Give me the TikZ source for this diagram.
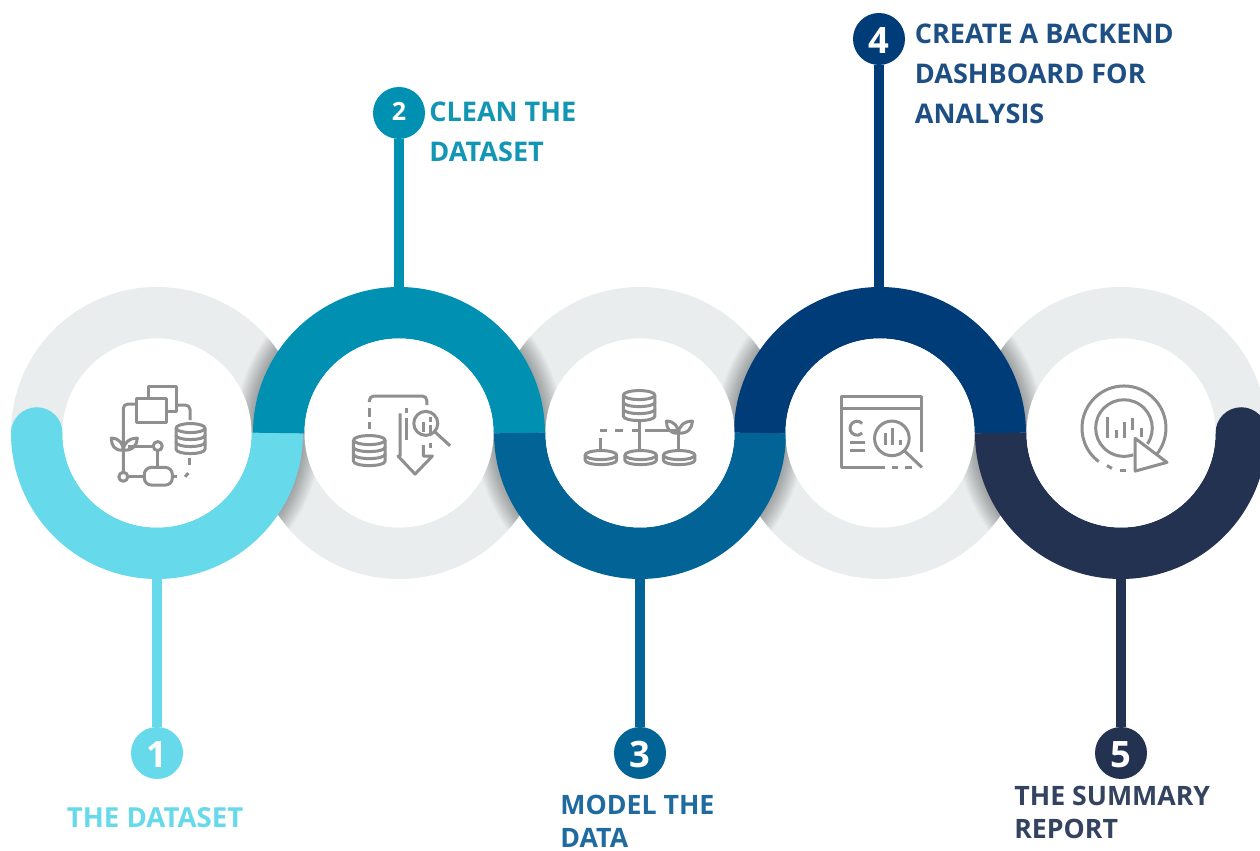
\documentclass[tikz,border=0pt]{standalone}
\usepackage{fontspec}
\setmainfont{Open Sans}
\definecolor{ringgray}{HTML}{EAEDEE}
\definecolor{icongray}{HTML}{8F8F8F}
\definecolor{cyanone}{HTML}{66D9EA}
\definecolor{tealtwo}{HTML}{0090B2}
\definecolor{bluethree}{HTML}{026496}
\definecolor{navyfour}{HTML}{003C77}
\definecolor{darkfive}{HTML}{223250}
\definecolor{texttwo}{HTML}{1296B3}
\definecolor{textthree}{HTML}{1F6A9E}
\definecolor{textfour}{HTML}{1D4F85}
\definecolor{textfive}{HTML}{344360}
\tikzset{
	hub/.style={circle, fill=white, minimum size=3.78cm, inner sep=0},
	badge/.style={circle, minimum size=1.04cm, inner sep=0, text=white, text depth=1.3pt, font=\fontsize{14.3}{18}\selectfont\bfseries},
	bigbadge/.style={badge, text depth=0pt, text height=16.5pt, font=\fontsize{20.7}{24}\selectfont\bfseries},
	tagtext/.style={font=\fontsize{15.4}{22.7}\selectfont\bfseries, align=left, anchor=west, inner sep=0},
	tagwide/.style={tagtext, font=\fontsize{15.7}{22.7}\selectfont\bfseries},
	tagtight/.style={tagtext, font=\fontsize{15.2}{18.8}\selectfont\bfseries},
	band/.style={line width=1.03cm},
	stem/.style={line width=0.2cm},
	icon/.style={draw=icongray, line width=0.06cm, line join=round},
	pixels/.style={shift={(0,17)}, x=0.02cm, y=-0.02cm}
}
% #1 x, #2 y of top ellipse, #3 rx, #4 ry, #5 layer height, #6 layers
\newcommand{\dbstack}[6]{
	\draw[icon] (#1,#2) ellipse ({#3} and {#4});
	\foreach \k in {1,...,#6} {
		\draw[icon] ({#1-#3},{#2+(\k-1)*#5}) -- ({#1-#3},{#2+\k*#5}) .. controls ({#1-#3},{#2+\k*#5+1.33*#4}) and ({#1+#3},{#2+\k*#5+1.33*#4}) .. ({#1+#3},{#2+\k*#5}) -- ({#1+#3},{#2+(\k-1)*#5});
	}
}
% #1 x, #2 y of the stem top
\newcommand{\sprout}[2]{
	\draw[icon] (#1,#2) .. controls ({#1-9},{#2+1}) and ({#1-12},{#2-5}) .. ({#1-12},{#2-12}) .. controls ({#1-4},{#2-12}) and ({#1},{#2-6}) .. (#1,#2);
	\draw[icon] (#1,#2) .. controls ({#1+9},{#2+1}) and ({#1+14},{#2-5}) .. ({#1+14},{#2-12}) .. controls ({#1+5},{#2-12}) and ({#1},{#2-6}) .. (#1,#2);
}
\begin{document}
\begin{tikzpicture}
	\useasboundingbox (0,0) rectangle (25.2,17);
	\clip (0,0) rectangle (25.2,17);
	\fill[white] (0,0) rectangle (25.2,17);
	\def\ringy{8.34}

	% gray halves
	\foreach \cx in {3.14,12.8,22.42}
		\draw[band, ringgray] (\cx+2.405,\ringy) arc (0:180:2.405);
	\foreach \cx in {7.98,17.6}
		\draw[band, ringgray] (\cx+2.405,\ringy) arc (0:-180:2.405);

	% shadows on the gray halves
	\foreach \gx/\cx/\endangle in {3.14/7.98/0,12.8/7.98/0,12.8/17.6/0,22.42/17.6/0,7.98/3.14/360,7.98/12.8/360,17.6/12.8/360,17.6/22.42/360} {
		\begin{scope}
			\clip (\gx-2.92,\ringy) arc (180:\endangle:2.92) -- cycle;
			\foreach \k in {1,...,12}
				\draw[black, opacity=0.026, line width=0.06*\k cm] (\cx,\ringy) circle (2.92);
		\end{scope}
	}

	% stems
	\node[bigbadge, fill=cyanone] (badge1) at (3.14,1.94) {1};
	\node[badge, fill=tealtwo] (badge2) at (7.98,14.74) {2};
	\node[bigbadge, fill=bluethree] (badge3) at (12.8,1.94) {3};
	\node[bigbadge, fill=navyfour] (badge4) at (17.58,16.22) {4};
	\node[bigbadge, fill=darkfive] (badge5) at (22.42,1.94) {5};
	\coordinate (foot1) at (3.14,5.94);
	\coordinate (foot2) at (7.98,10.74);
	\coordinate (foot3) at (12.8,5.94);
	\coordinate (foot4) at (17.58,10.74);
	\coordinate (foot5) at (22.42,5.94);
	\draw[stem, cyanone] (badge1) -- (foot1);
	\draw[stem, tealtwo] (badge2) -- (foot2);
	\draw[stem, bluethree] (badge3) -- (foot3);
	\draw[stem, navyfour] (badge4) -- (foot4);
	\draw[stem, darkfive] (badge5) -- (foot5);

	% colored halves
	\draw[band, cyanone] (3.14-2.405,\ringy) arc (180:360:2.405);
	\fill[cyanone] (3.14-2.405,\ringy) circle (0.515);
	\draw[band, tealtwo] (7.98-2.405,\ringy) arc (180:0:2.405);
	\draw[band, bluethree] (12.8-2.405,\ringy) arc (180:360:2.405);
	\draw[band, navyfour] (17.6-2.405,\ringy) arc (180:0:2.405);
	\draw[band, darkfive] (22.42-2.405,\ringy) arc (180:360:2.405);
	\fill[darkfive] (22.42+2.405,\ringy) circle (0.515);

	\node[hub] (hub1) at (3.14,\ringy) {};
	\node[hub] (hub2) at (7.98,\ringy) {};
	\node[hub] (hub3) at (12.8,\ringy) {};
	\node[hub] (hub4) at (17.6,\ringy) {};
	\node[hub] (hub5) at (22.42,\ringy) {};

	% labels
	\node[tagwide, text=cyanone] (tag1) at (1.33,0.64) {THE DATASET};
	\node[tagtext, text=texttwo] (tag2) at (8.58,14.37) {CLEAN THE\\DATASET};
	\node[tagtight, text=textthree, text depth=0pt] (tag3) at (11.2,0.58) {MODEL THE\\DATA};
	\node[tagtext, text=textfour] (tag4) at (18.29,15.52) {CREATE A BACKEND\\DASHBOARD FOR\\ANALYSIS};
	\node[tagtight, text=textfive] (tag5) at (20.28,0.75) {THE SUMMARY\\REPORT};

	\begin{scope}[pixels]
		% icon 1
		\draw[icon] (148.3,398) -- (148.3,386) -- (176.7,386) -- (176.7,411.7) -- (166.7,411.7);
		\draw[icon] (136.7,398.3) rectangle (166.7,422.3);
		\draw[icon, rounded corners=2.5pt] (136.7,404) -- (123.3,404) -- (123.3,472);
		\draw[icon, rounded corners=2.5pt] (176.7,405) -- (190,405) -- (190,420);
		\dbstack{190.5}{428}{14.5}{4.5}{7}{3}
		\sprout{123.3}{450}
		\draw[icon] (123.3,476.7) circle (4.5);
		\draw[icon] (157.7,446) circle (4.5);
		\draw[icon] (128,446) -- (153,446);
		\draw[icon] (157.7,450.5) -- (157.7,467.3);
		\draw[icon] (128,476.7) -- (144.3,476.7);
		\draw[icon, rounded corners=4pt] (144.3,467.3) rectangle (172.3,485);
		\draw[icon] (172.3,476.7) -- (177.3,476.7);
		\draw[icon] (188.3,473) -- (185,476.7);
		\draw[icon] (189.3,458.3) -- (189.3,465);

		% icon 2
		\dbstack{369.2}{440}{15.8}{4.5}{7}{3}
		\draw[icon, rounded corners=2.5pt] (369.3,402) -- (369.3,396) -- (426.7,396) -- (426.7,405);
		\draw[icon] (369.3,408.3) -- (369.3,416.7);
		\draw[icon] (369.3,421.7) -- (369.3,429.3);
		\draw[icon] (400,413.3) -- (400,456) -- (398,456) -- (415,474) -- (432.3,456) -- (423.3,456) -- (423.3,445);
		\draw[icon] (406.7,408.3) -- (406.7,413.3);
		\draw[icon] (406.7,418.3) -- (406.7,440);
		\draw[icon] (425.7,423.3) circle (12);
		\draw[icon] (434.5,431.5) -- (450,445.7);
		\draw[icon] (423.3,421.7) -- (423.3,431.7);
		\draw[icon] (430.7,417) -- (430.7,422);
		\draw[icon] (430.7,425) -- (430.7,433);
		\draw[icon] (430.7,443) -- (430.7,448);

		% icon 3
		\dbstack{639}{395}{15.8}{4.5}{7}{3}
		\draw[icon] (639.3,420) -- (639.3,450);
		\draw[icon] (645,430.7) -- (678,430.7);
		\draw[icon] (600,430.7) -- (606.7,430.7);
		\draw[icon] (615,430.7) -- (623.3,430.7);
		\draw[icon] (631.7,430.7) -- (638,430.7);
		\draw[icon] (600,438.3) -- (600,450);
		\draw[icon] (678.3,433) -- (678.3,450);
		\sprout{678.3}{433}
		\dbstack{600.8}{455}{15.8}{4.5}{5}{1}
		\dbstack{640.5}{455}{15.8}{4.5}{5}{1}
		\dbstack{679}{455}{15.8}{4.5}{5}{1}

		% icon 4
		\draw[icon] (921.7,451.7) -- (921.7,396.7) -- (841,396.7) -- (841,467.3) -- (885,467.3);
		\draw[icon] (891.7,467.3) -- (898.3,467.3);
		\draw[icon] (905,467.3) -- (912.3,467.3);
		\draw[icon] (841,408.3) -- (921.7,408.3);
		\draw[icon] (862,423.4) arc (-43:-317:7);
		\draw[icon] (850,442.3) -- (865,442.3);
		\draw[icon] (850,450.7) -- (865,450.7);
		\draw[icon] (891.7,438.3) circle (17.3);
		\draw[icon] (904,450.5) -- (921.7,467.3);
		\draw[icon] (885.7,433.3) -- (885.7,445);
		\draw[icon] (892.7,428.3) -- (892.7,445);
		\draw[icon] (900,440) -- (900,445);

		% icon 5
		\draw[icon] (1123.7+32.2,428+26.9) arc (40:-233:42);
		\draw[icon] (1123.7+23.5,428+15.8) arc (34:-289:28.3);
		\draw[icon] (1106.7,465.5) -- (1111.7,468.3);
		\draw[icon] (1120,470) -- (1125.7,470);
		\draw[icon] (1135,438.3) -- (1166.7,462.3) -- (1135,471) -- cycle;
		\draw[icon] (1107.7,416.7) -- (1107.7,438.3);
		\draw[icon] (1116,430) -- (1116,438.3);
		\draw[icon] (1124.3,421.7) -- (1124.3,438.3);
		\draw[icon] (1132.7,418.3) -- (1132.7,430);
		\draw[icon] (1141.7,428.3) -- (1141.7,436.7);
	\end{scope}
\end{tikzpicture}
\end{document}
